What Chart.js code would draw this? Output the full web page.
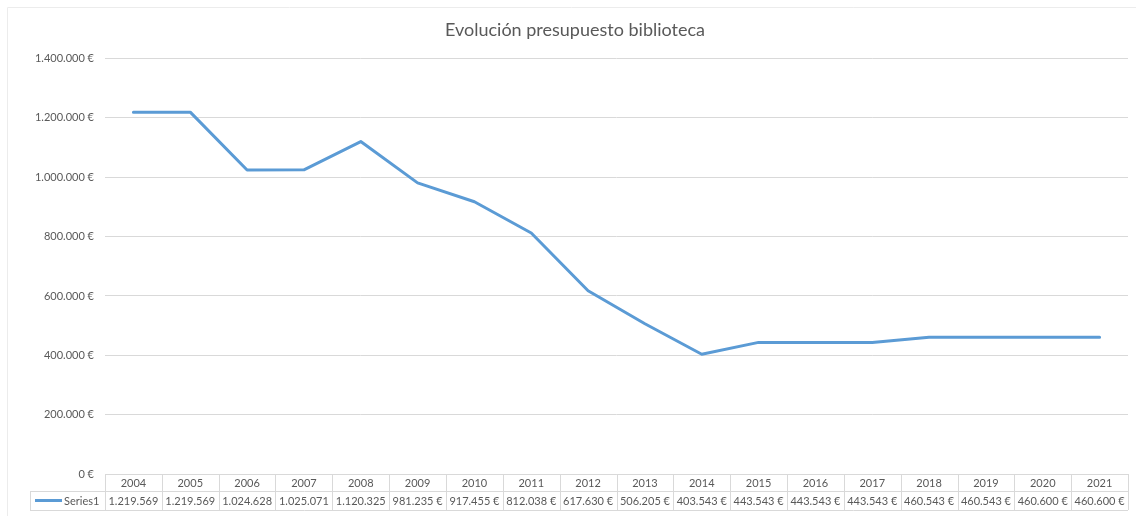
<!DOCTYPE html>
<html>
<head>
<meta charset="utf-8">
<script src="https://cdn.jsdelivr.net/npm/chart.js@4.4.1/dist/chart.umd.min.js"></script>
<style>
  html, body { margin: 0; padding: 0; background: #fff; }
  #wrap { width: 1136px; height: 516px; position: relative; }
</style>
</head>
<body>
<div id="wrap"><canvas id="budget-chart" width="1136" height="516"></canvas></div>
<script>
// Chart data
const years = ["2004", "2005", "2006", "2007", "2008", "2009", "2010", "2011", "2012", "2013", "2014", "2015", "2016", "2017", "2018", "2019", "2020", "2021"];
const budget = [1219569, 1219569, 1024628, 1025071, 1120325, 981235, 917455, 812038, 617630, 506205, 403543, 443543, 443543, 443543, 460543, 460543, 460600, 460600];
// Text as Excel shows it in the data table (wide values lose the € sign)
const tableValues = ["1.219.569", "1.219.569", "1.024.628", "1.025.071", "1.120.325", "981.235 €", "917.455 €", "812.038 €", "617.630 €", "506.205 €", "403.543 €", "443.543 €", "443.543 €", "443.543 €", "460.543 €", "460.543 €", "460.600 €", "460.600 €"];
const seriesName = "Series1";
const chartTitle = "Evolución presupuesto biblioteca";

// Style constants
const LINE_COLOR = "#5b9bd5";
const TEXT_COLOR = "#595959";
const GRID_COLOR = "#d9d9d9";
const FONT = "Lato, 'Liberation Sans', sans-serif";
const HEADER_H = 17;
const ROW_H = 19;
const LABEL_LEFT = 30;

// Format numbers the Spanish way: 1.400.000 €
const euro = (v) => String(Math.round(v)).replace(/\B(?=(\d{3})+(?!\d))/g, ".") + " €";

// Faint outer border of the Excel chart object
const framePlugin = {
  id: "frame",
  beforeDraw(chart) {
    const { ctx, width, height } = chart;
    ctx.save();
    ctx.strokeStyle = "#ececec";
    ctx.lineWidth = 1;
    ctx.beginPath();
    ctx.moveTo(7.5, height);
    ctx.lineTo(7.5, 7.5);
    ctx.lineTo(width, 7.5);
    ctx.stroke();
    ctx.restore();
  },
};

// Data table under the plot (header with years, one row of values)
const dataTablePlugin = {
  id: "dataTable",
  afterDraw(chart) {
    const { ctx, chartArea } = chart;
    const x = chart.scales.x;
    const colW = (chartArea.right - chartArea.left) / years.length;
    const top = chartArea.bottom;
    const mid = top + HEADER_H;
    const bottom = mid + ROW_H;

    ctx.save();
    ctx.strokeStyle = GRID_COLOR;
    ctx.lineWidth = 1;
    ctx.beginPath();
    // horizontal lines
    ctx.moveTo(chartArea.left, Math.round(top) + 0.5);
    ctx.lineTo(chartArea.right, Math.round(top) + 0.5);
    ctx.moveTo(LABEL_LEFT, Math.round(mid) + 0.5);
    ctx.lineTo(chartArea.right, Math.round(mid) + 0.5);
    ctx.moveTo(LABEL_LEFT, Math.round(bottom) + 0.5);
    ctx.lineTo(chartArea.right, Math.round(bottom) + 0.5);
    // vertical lines
    ctx.moveTo(LABEL_LEFT + 0.5, mid);
    ctx.lineTo(LABEL_LEFT + 0.5, bottom);
    for (let i = 0; i <= years.length; i++) {
      const edge = Math.round(x.getPixelForValue(i) - colW / 2) + 0.5;
      ctx.moveTo(edge, top);
      ctx.lineTo(edge, bottom);
    }
    ctx.stroke();

    // legend key + series name
    ctx.strokeStyle = LINE_COLOR;
    ctx.lineWidth = 3;
    ctx.beginPath();
    ctx.moveTo(LABEL_LEFT + 5, (mid + bottom) / 2);
    ctx.lineTo(LABEL_LEFT + 32, (mid + bottom) / 2);
    ctx.stroke();

    ctx.fillStyle = TEXT_COLOR;
    ctx.font = "11px " + FONT;
    ctx.textBaseline = "middle";
    ctx.textAlign = "left";
    ctx.fillText(seriesName, LABEL_LEFT + 34, (mid + bottom) / 2 + 0.5);

    ctx.textAlign = "center";
    years.forEach((year, i) => {
      const cx = x.getPixelForValue(i);
      ctx.fillText(year, cx, (top + mid) / 2 + 1);
      ctx.fillText(tableValues[i], cx, (mid + bottom) / 2 + 0.5);
    });
    ctx.restore();
  },
};

new Chart(document.getElementById("budget-chart"), {
  type: "line",
  data: {
    labels: years,
    datasets: [
      {
        label: seriesName,
        data: budget,
        borderColor: LINE_COLOR,
        backgroundColor: LINE_COLOR,
        borderWidth: 3,
        pointRadius: 0,
        tension: 0,
        borderJoinStyle: "round",
        borderCapStyle: "round",
      },
    ],
  },
  options: {
    responsive: false,
    animation: false,
    layout: {
      padding: { left: 22, right: 8, top: 0, bottom: HEADER_H + ROW_H + 6 },
    },
    plugins: {
      legend: { display: false },
      tooltip: { enabled: false },
      title: {
        display: true,
        text: chartTitle,
        color: TEXT_COLOR,
        font: { family: FONT, size: 18, weight: "normal" },
        padding: { top: 19, bottom: 18 },
      },
    },
    scales: {
      x: {
        display: false,
        offset: true,
      },
      y: {
        min: 0,
        max: 1400000,
        afterFit: (scale) => {
          scale.width = 83;
        },
        ticks: {
          stepSize: 200000,
          padding: 11,
          color: TEXT_COLOR,
          font: { family: FONT, size: 11 },
          callback: (v) => euro(v),
        },
        grid: { color: GRID_COLOR, drawTicks: false },
        border: { display: false },
      },
    },
  },
  plugins: [framePlugin, dataTablePlugin],
});
</script>
</body>
</html>
